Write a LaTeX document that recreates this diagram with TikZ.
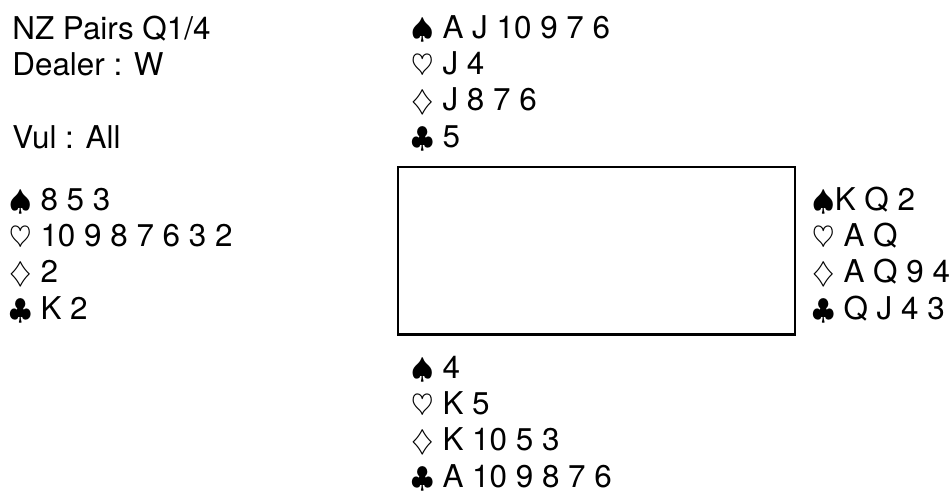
\documentclass[tikz,border=0pt]{standalone}
\usepackage{fontspec}
\setmainfont{TeX Gyre Heros}

\newcommand{\Sp}{$\spadesuit$}
\newcommand{\He}{$\heartsuit$}
\newcommand{\Di}{$\diamondsuit$}
\newcommand{\Cl}{$\clubsuit$}

\begin{document}
\begin{tikzpicture}[x=0.5pt, y=-0.5pt,
  hand/.style={anchor=north west, inner sep=0pt, align=left,
    font=\fontsize{15.7}{18.1}\selectfont}]

  \useasboundingbox (0,0) rectangle (952,492);

  % 牌桌
  \node[draw, line width=1.4pt, inner sep=0pt, anchor=north west,
    minimum width=198.5pt, minimum height=83.75pt] (table) at (396.5,165.5) {};

  % 牌局信息
  \node[hand] (info) at (12,13.7) {\strut NZ Pairs Q1/4\\Dealer : W\\ \strut\\Vul : All};

  % 北家
  \node[hand] (north) at (411,12.7) {\strut\Sp{} A J 10 9 7 6\\\He{} J 4\\\Di{} J 8 7 6\\\Cl{} 5};

  % 西家
  \node[hand] (west) at (9,184.7) {\strut\Sp{} 8 5 3\\\He{} 10 9 8 7 6 3 2\\\Di{} 2\\\Cl{} K 2};

  % 东家
  \node[hand] (east) at (812,184.7) {\strut\Sp K Q 2\\\He{} A Q\\\Di{} A Q 9 4\\\Cl{} Q J 4 3};

  % 南家
  \node[hand] (south) at (411,352.7) {\strut\Sp{} 4\\\He{} K 5\\\Di{} K 10 5 3\\\Cl{} A 10 9 8 7 6};

\end{tikzpicture}
\end{document}
